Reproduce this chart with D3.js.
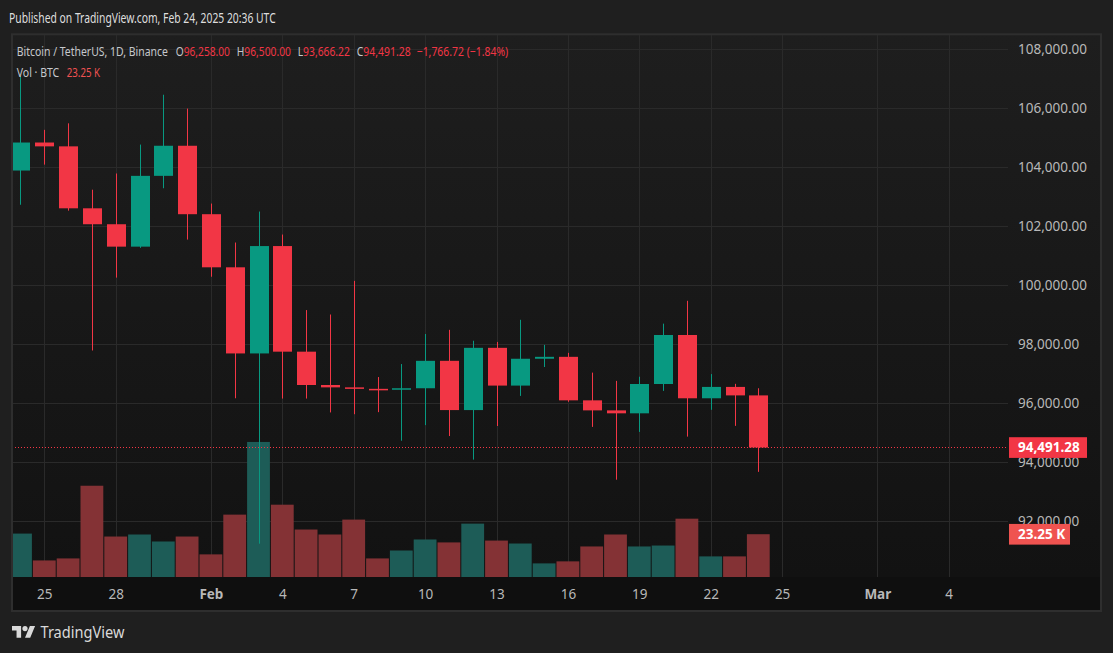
<!DOCTYPE html>
<html lang="en">
<head>
<meta charset="UTF-8">
<title>BTCUSDT 1D</title>
<script src="https://d3js.org/d3.v7.min.js"></script>
<style>
  html, body { margin: 0; background: #1f1f1f; }
  svg { display: block; font-family: "Noto Sans", sans-serif; }
</style>
</head>
<body>
<div id="chart"></div>
<script>
// Daily candles, Bitcoin / TetherUS on Binance
const days = [
  "2025-01-24", "2025-01-25", "2025-01-26", "2025-01-27", "2025-01-28", "2025-01-29",
  "2025-01-30", "2025-01-31", "2025-02-01", "2025-02-02", "2025-02-03", "2025-02-04",
  "2025-02-05", "2025-02-06", "2025-02-07", "2025-02-08", "2025-02-09", "2025-02-10",
  "2025-02-11", "2025-02-12", "2025-02-13", "2025-02-14", "2025-02-15", "2025-02-16",
  "2025-02-17", "2025-02-18", "2025-02-19", "2025-02-20", "2025-02-21", "2025-02-22",
  "2025-02-23", "2025-02-24"
];
const open = [
  103880, 104830, 104700, 102600, 102060, 101300, 103700, 104720, 102400, 100600,
  97680, 101320, 97740, 96610, 96530, 96480, 96460, 96500, 97430, 95760,
  97870, 96590, 97500, 97565, 96090, 95750, 95650, 96644, 98305, 96160,
  96545, 96258
];
const high = [
  107080, 105260, 105480, 103230, 103780, 104760, 106450, 105980, 102760, 101440,
  102490, 101710, 99150, 99000, 100140, 96880, 97320, 98340, 98480, 98110,
  98070, 98820, 97970, 97700, 97030, 96750, 96890, 98690, 99465, 96980,
  96650, 96500
];
const low = [
  102720, 104080, 102520, 97780, 100250, 101260, 103280, 101540, 100280, 96160,
  91230, 96150, 96150, 95680, 95620, 95690, 94720, 95250, 94880, 94080,
  95220, 96240, 97220, 96040, 95190, 93400, 95020, 96410, 94860, 95770,
  95225, 93666.22
];
const close = [
  104830, 104700, 102600, 102060, 101300, 103700, 104720, 102400, 100600, 97680,
  101320, 97740, 96610, 96530, 96480, 96460, 96500, 97430, 95760, 97870,
  96590, 97500, 97565, 96090, 95750, 95650, 96644, 98305, 96160, 96545,
  96258, 94491.28
];
// volume in thousands of BTC
const volumeK = [
  23.6, 9.0, 10.1, 49.6, 22.0, 23.1, 19.3, 22.0, 12.3, 33.9,
  73.4, 39.3, 25.8, 23.1, 31.2, 10.1, 14.4, 20.4, 18.8, 29.0,
  19.8, 18.2, 7.4, 8.5, 16.6, 23.1, 16.6, 17.1, 31.7, 11.2,
  11.2, 23.25
];

const priceTicks = [92000, 94000, 96000, 98000, 100000, 102000, 104000, 106000, 108000];
const timeTickDates = ["2025-01-25", "2025-01-28", "2025-02-01", "2025-02-04", "2025-02-07",
  "2025-02-10", "2025-02-13", "2025-02-16", "2025-02-19", "2025-02-22", "2025-02-25",
  "2025-03-01", "2025-03-04"];
const timeTickLabels = ["25", "28", "Feb", "4", "7", "10", "13", "16", "19", "22", "25", "Mar", "4"];

const W = 1113, H = 653;
const frame = { left: 12, top: 34, right: 1101, bottom: 611 };
const plotRight = 1008;
const timeTop = 577;

const UP = "#089981", DOWN = "#f23645";
const UP_VOL = "#1d5c57", DOWN_VOL = "#843235";

const fmt = d3.format(",.2f");

const svg = d3.select("#chart").append("svg")
  .attr("width", W)
  .attr("height", H);

// scales
const parse = s => new Date(s + "T00:00:00Z");
const x = d3.scaleUtc()
  .domain([parse("2025-01-25"), parse("2025-02-25")])
  .range([44.3, 782.1]);
const step = x(parse("2025-01-26")) - x(parse("2025-01-25"));

const y = d3.scaleLinear().domain([92000, 108000]).range([521, 49]);
const yv = d3.scaleLinear().domain([0, 100]).range([timeTop, 393]);

const candles = days.map((d, i) => ({
  date: parse(d), o: open[i], h: high[i], l: low[i], c: close[i], v: volumeK[i]
}));

// backgrounds
const defs = svg.append("defs");
const grad = defs.append("linearGradient")
  .attr("id", "bg").attr("x1", 0).attr("y1", 0).attr("x2", 0).attr("y2", 1);
grad.append("stop").attr("offset", "0%").attr("stop-color", "#1e1e1e");
grad.append("stop").attr("offset", "100%").attr("stop-color", "#121212");

defs.append("clipPath").attr("id", "plotClip")
  .append("rect")
  .attr("x", frame.left + 1).attr("y", frame.top + 1)
  .attr("width", plotRight - frame.left - 1)
  .attr("height", timeTop - frame.top - 1);

svg.append("rect").attr("width", W).attr("height", H).attr("fill", "#1f1f1f");

svg.append("rect")
  .attr("x", frame.left).attr("y", frame.top)
  .attr("width", frame.right - frame.left).attr("height", timeTop - frame.top)
  .attr("fill", "url(#bg)");

svg.append("rect")
  .attr("x", frame.left).attr("y", timeTop)
  .attr("width", frame.right - frame.left).attr("height", frame.bottom - timeTop)
  .attr("fill", "#0f0f0f");

// grid
const grid = svg.append("g").attr("stroke", "#2a2a2a").attr("stroke-width", 1);
grid.selectAll(".vgrid")
  .data(timeTickDates)
  .enter().append("line")
  .attr("x1", d => Math.round(x(parse(d))) + 0.5)
  .attr("x2", d => Math.round(x(parse(d))) + 0.5)
  .attr("y1", frame.top)
  .attr("y2", timeTop);
grid.selectAll(".hgrid")
  .data(priceTicks)
  .enter().append("line")
  .attr("x1", frame.left)
  .attr("x2", plotRight)
  .attr("y1", d => Math.round(y(d)) + 0.5)
  .attr("y2", d => Math.round(y(d)) + 0.5);

// volume + candles
const plot = svg.append("g").attr("clip-path", "url(#plotClip)");

plot.selectAll(".vol")
  .data(candles)
  .enter().append("rect")
  .attr("x", d => x(d.date) - step / 2 + 0.5)
  .attr("width", step - 1)
  .attr("y", d => yv(d.v))
  .attr("height", d => timeTop - yv(d.v))
  .attr("fill", d => d.c >= d.o ? UP_VOL : DOWN_VOL);

plot.selectAll(".wick")
  .data(candles)
  .enter().append("line")
  .attr("x1", d => Math.round(x(d.date)) + 0.5)
  .attr("x2", d => Math.round(x(d.date)) + 0.5)
  .attr("y1", d => y(d.h))
  .attr("y2", d => y(d.l))
  .attr("stroke", d => d.c >= d.o ? UP : DOWN)
  .attr("stroke-width", 1);

const bodyW = 19;
plot.selectAll(".body")
  .data(candles)
  .enter().append("rect")
  .attr("x", d => Math.round(x(d.date)) + 0.5 - bodyW / 2)
  .attr("width", bodyW)
  .attr("y", d => y(Math.max(d.o, d.c)))
  .attr("height", d => Math.max(1.5, Math.abs(y(d.o) - y(d.c))))
  .attr("fill", d => d.c >= d.o ? UP : DOWN);

const last = candles[candles.length - 1];
const prev = candles[candles.length - 2];

// last price line
svg.append("line")
  .attr("x1", frame.left).attr("x2", plotRight)
  .attr("y1", y(last.c)).attr("y2", y(last.c))
  .attr("stroke", DOWN)
  .attr("stroke-width", 1)
  .attr("stroke-dasharray", "1 2");

// price axis
const yAxis = svg.append("g")
  .attr("transform", `translate(${plotRight},0)`)
  .call(d3.axisRight(y).tickValues(priceTicks).tickFormat(fmt).tickSize(0).tickPadding(10));
yAxis.select(".domain").remove();
yAxis.selectAll("text")
  .attr("fill", "#b8b8b8")
  .style("font-size", "13.5px")
  .style("font-family", "Noto Sans");

// time axis
const xAxis = svg.append("g")
  .attr("transform", `translate(0,${timeTop})`)
  .call(d3.axisBottom(x)
    .tickValues(timeTickDates.map(parse))
    .tickFormat((d, i) => timeTickLabels[i])
    .tickSize(0).tickPadding(12));
xAxis.select(".domain").remove();
xAxis.selectAll("text")
  .attr("fill", "#b8b8b8")
  .style("font-size", "13.5px")
  .style("font-family", "Noto Sans")
  .style("font-weight", (d, i) => isNaN(+timeTickLabels[i]) ? "bold" : "normal");

// last price and volume labels
const priceY = y(last.c);
svg.append("rect")
  .attr("x", 1009).attr("y", priceY - 10.3)
  .attr("width", 78).attr("height", 20.7)
  .attr("fill", DOWN);
svg.append("text")
  .attr("x", 1018).attr("y", priceY)
  .attr("dy", "0.35em")
  .attr("fill", "#ffffff")
  .style("font-size", "13.5px")
  .style("font-weight", "bold")
  .text(fmt(last.c));

const volY = yv(last.v);
svg.append("rect")
  .attr("x", 1009).attr("y", volY - 10.3)
  .attr("width", 61).attr("height", 20.7)
  .attr("fill", "#ef5350");
svg.append("text")
  .attr("x", 1018).attr("y", volY)
  .attr("dy", "0.35em")
  .attr("fill", "#ffffff")
  .style("font-size", "13.5px")
  .style("font-weight", "bold")
  .text(d3.format(".2f")(last.v) + " K");

// frame border
svg.append("rect")
  .attr("x", frame.left).attr("y", frame.top + 0.3)
  .attr("width", frame.right - frame.left)
  .attr("height", frame.bottom - frame.top - 0.3)
  .attr("fill", "none")
  .attr("stroke", "#2e2e2e")
  .attr("stroke-width", 2);

// narrow header texts: measured, then squeezed horizontally to the width seen
function label(xPos, yPos, runs, width, size) {
  const g = svg.append("g");
  const t = g.append("text")
    .style("font-size", (size || 13.5) + "px");
  runs.forEach(([s, c]) => t.append("tspan").attr("fill", c).text(s));
  const natural = t.node().getComputedTextLength();
  g.attr("transform", `translate(${xPos},${yPos}) scale(${width / natural},1)`);
  return t;
}

label(9, 23, [["Published on TradingView.com, Feb 24, 2025 20:36 UTC", "#dedede"]], 267, 14);

const grey = "#c6c8cc";
const change = last.c - prev.c;
const pct = change / prev.c * 100;
const sign = v => v < 0 ? "\u2212" : "+";
label(16.7, 56, [["Bitcoin / TetherUS, 1D, Binance", grey]], 151.3);
label(175.7, 56, [["O", grey], [fmt(last.o), DOWN]], 54.3);
label(236.7, 56, [["H", grey], [fmt(last.h), DOWN]], 54.3);
label(297.7, 56, [["L", grey], [fmt(last.l), DOWN]], 52.3);
label(356.7, 56, [["C", grey], [fmt(last.c), DOWN]], 54);
label(416.7, 56, [[sign(change) + fmt(Math.abs(change)) + " (" + sign(pct) + Math.abs(pct).toFixed(2) + "%)", DOWN]], 91.6);

label(16.7, 76.5, [["Vol \u00b7 BTC", grey]], 42.6);
label(66.7, 76.5, [[d3.format(".2f")(last.v) + " K", "#f05252"]], 33.3);

// TradingView logo
svg.append("g")
  .attr("transform", "translate(12,623.4) scale(0.65)")
  .attr("fill", "#d9d9d9")
  .call(g => {
    g.append("path").attr("d", "M14 22H7V11H0V4h14v18zM28 22h-8l7.5-18h8L28 22z");
    g.append("circle").attr("cx", 20).attr("cy", 8).attr("r", 4);
  });
label(40.5, 637.5, [["TradingView", "#d9d9d9"]], 84, 15.5);
</script>
</body>
</html>
